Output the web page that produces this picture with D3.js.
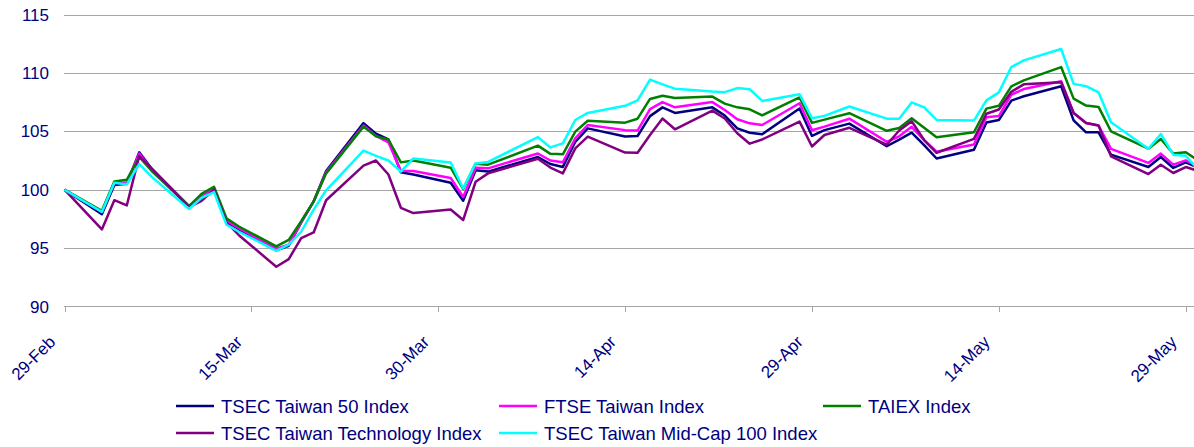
<!DOCTYPE html>
<html>
<head>
<meta charset="utf-8">
<script src="https://cdn.jsdelivr.net/npm/d3@7"></script>
<style>
  body { margin: 0; background: #fff; }
  svg { display: block; font-family: "Liberation Sans", Arial, sans-serif; }
  .grid line { stroke: #a6a6a6; stroke-width: 1; }
  .axis text { fill: #000080; }
</style>
</head>
<body>
<svg id="chart" width="1194" height="447"></svg>
<script>
// trading days, 2008
var dates = [
  "2008-02-29",
  "2008-03-03","2008-03-04","2008-03-05","2008-03-06","2008-03-07",
  "2008-03-10","2008-03-11","2008-03-12","2008-03-13","2008-03-14",
  "2008-03-17","2008-03-18","2008-03-19","2008-03-20","2008-03-21",
  "2008-03-24","2008-03-25","2008-03-26","2008-03-27","2008-03-28",
  "2008-03-31","2008-04-01","2008-04-02","2008-04-03",
  "2008-04-07","2008-04-08","2008-04-09","2008-04-10","2008-04-11",
  "2008-04-14","2008-04-15","2008-04-16","2008-04-17","2008-04-18",
  "2008-04-21","2008-04-22","2008-04-23","2008-04-24","2008-04-25",
  "2008-04-28","2008-04-29","2008-04-30","2008-05-02",
  "2008-05-05","2008-05-06","2008-05-07","2008-05-08","2008-05-09",
  "2008-05-12","2008-05-13","2008-05-14","2008-05-15","2008-05-16",
  "2008-05-19","2008-05-20","2008-05-21","2008-05-22","2008-05-23",
  "2008-05-26","2008-05-27","2008-05-28","2008-05-29","2008-05-30"
];

var tsec50 = [100,
  97.9,100.4,100.5,103.2,101.8,
  98.6,99.4,100.1,97.3,96.6,
  94.8,95.2,97.2,99.0,101.6,
  105.7,104.8,104.3,101.5,101.3,
  100.6,99.05,101.66,101.55,
  102.8,102.2,101.95,104.1,105.25,
  104.55,104.6,106.3,107.05,106.57,
  107.05,106.35,105.25,104.88,104.75,
  106.95,104.6,105.1,105.66,
  103.72,104.28,104.88,103.82,102.67,
  103.42,105.76,105.97,107.63,108.0,
  108.85,105.94,104.91,104.91,103.0,
  101.94,102.8,101.86,102.34,101.9];

var ftse = [100,
  98.1,100.6,100.6,103.1,101.7,
  98.55,99.4,100.1,97.35,96.7,
  94.95,95.3,97.2,99.0,101.5,
  105.5,104.6,104.06,101.6,101.6,
  101.0,99.38,101.88,101.83,
  103.1,102.5,102.35,104.4,105.54,
  105.1,105.06,106.9,107.5,107.05,
  107.5,106.82,106.03,105.68,105.54,
  107.4,105.09,105.4,106.08,
  104.1,104.57,105.38,104.25,103.25,
  103.87,106.2,106.3,108.13,108.62,
  109.28,106.57,105.71,105.49,103.49,
  102.29,103.09,102.14,102.51,102.0];

var taiex = [100,
  98.2,100.7,100.85,102.8,101.6,
  98.6,99.65,100.25,97.55,96.85,
  95.15,95.7,97.3,99.0,101.4,
  105.4,104.57,104.3,102.34,102.5,
  101.88,100.05,102.23,102.14,
  103.77,103.07,103.03,104.97,105.9,
  105.74,106.08,107.77,108.04,107.85,
  107.97,107.37,107.05,106.88,106.37,
  107.9,105.72,106.0,106.55,
  105.04,105.29,106.12,105.3,104.5,
  104.92,106.94,107.18,108.85,109.36,
  110.5,107.8,107.2,107.09,105.0,
  103.51,104.34,103.09,103.2,102.5];

var tech = [100,
  96.6,99.1,98.65,102.9,101.8,
  98.5,99.05,100.0,97.2,96.1,
  93.4,94.06,95.86,96.34,99.1,
  102.06,102.5,101.3,98.45,98.0,
  98.3,97.4,100.68,101.4,
  102.65,101.9,101.4,103.54,104.54,
  103.18,103.16,104.68,106.1,105.17,
  106.77,106.1,104.83,103.94,104.3,
  105.83,103.7,104.68,105.3,
  103.85,105.07,105.86,104.25,103.16,
  104.35,106.5,106.87,108.38,109.02,
  109.2,106.57,105.71,105.49,102.86,
  101.34,102.14,101.43,101.94,101.6];

var midcap = [100,
  98.1,100.6,100.45,102.2,101.1,
  98.35,99.3,99.8,97.0,96.4,
  94.77,95.3,96.4,98.3,99.95,
  103.34,102.9,102.5,101.55,102.68,
  102.33,100.1,102.25,102.38,
  104.5,103.62,103.97,105.97,106.57,
  107.18,107.65,109.43,109.02,108.65,
  108.4,108.35,108.7,108.6,107.6,
  108.18,106.12,106.32,107.12,
  106.08,106.08,107.47,107.05,105.97,
  105.92,107.65,108.33,110.5,111.07,
  112.05,109.06,108.86,108.34,105.77,
  103.51,104.77,103.0,102.91,101.7];

var seriesNames = ["TSEC Taiwan 50 Index", "FTSE Taiwan Index", "TAIEX Index",
                   "TSEC Taiwan Technology Index", "TSEC Taiwan Mid-Cap 100 Index"];
var seriesColors = ["#000080", "#ff00ff", "#008000", "#800080", "#00ffff"];
var seriesValues = [tsec50, ftse, taiex, tech, midcap];

var tickDates = ["2008-02-29","2008-03-15","2008-03-30","2008-04-14","2008-04-29","2008-05-14","2008-05-29"];
var tickLabels = ["29-Feb","15-Mar","30-Mar","14-Apr","29-Apr","14-May","29-May"];
var yTicks = [90, 95, 100, 105, 110, 115];

var parse = d3.utcParse("%Y-%m-%d");
var svg = d3.select("#chart");

var x = d3.scaleUtc()
    .domain([parse("2008-02-29"), parse("2008-05-30")])
    .range([64.5, 1198.2]);
var y = d3.scaleLinear().domain([90, 115]).range([306.5, 14.5]);

// gridlines
svg.append("g").attr("class", "grid")
  .selectAll("line")
  .data(yTicks.slice(1))
  .enter().append("line")
    .attr("x1", 64).attr("x2", 1200)
    .attr("y1", function(d) { return Math.round(y(d)) + 0.5; })
    .attr("y2", function(d) { return Math.round(y(d)) + 0.5; });

// y labels
svg.append("g").attr("class", "axis")
  .selectAll("text")
  .data(yTicks)
  .enter().append("text")
    .attr("x", 49)
    .attr("y", function(d) { return y(d); })
    .attr("dy", "0.36em")
    .attr("text-anchor", "end")
    .style("font-size", "17px")
    .text(function(d) { return d; });

// x axis
var tickX = tickDates.map(function(d) { return x(parse(d)); });
var xg = svg.append("g").attr("class", "axis");
xg.append("line")
    .attr("x1", 64).attr("x2", 1200)
    .attr("y1", 306.5).attr("y2", 306.5)
    .attr("stroke", "#a6a6a6");
xg.selectAll(".tick")
  .data(tickX)
  .enter().append("line")
    .attr("x1", function(d) { return Math.round(d) + 0.5; })
    .attr("x2", function(d) { return Math.round(d) + 0.5; })
    .attr("y1", 306.5).attr("y2", 312)
    .attr("stroke", "#a6a6a6");
xg.selectAll(".lbl")
  .data(tickLabels)
  .enter().append("text")
    .attr("text-anchor", "end")
    .style("font-size", "17px")
    .attr("transform", function(d, i) {
      return "translate(" + (tickX[i] - 8) + ",343) rotate(-45)";
    })
    .text(function(d) { return d; });

// lines
var line = d3.line()
    .x(function(d) { return x(d.date); })
    .y(function(d) { return y(d.value); });

seriesValues.forEach(function(vals, i) {
  var pts = dates.map(function(d, j) { return { date: parse(d), value: vals[j] }; });
  svg.append("path")
      .datum(pts)
      .attr("fill", "none")
      .attr("stroke", seriesColors[i])
      .attr("stroke-width", 2.5)
      .attr("stroke-linejoin", "round")
      .attr("d", line);
});

// legend
var legPos = [[176, 406], [499, 406], [823, 406], [176, 433], [499, 433]];
var leg = svg.append("g");
seriesNames.forEach(function(name, i) {
  var p = legPos[i];
  leg.append("line")
      .attr("x1", p[0]).attr("x2", p[0] + 38)
      .attr("y1", p[1]).attr("y2", p[1])
      .attr("stroke", seriesColors[i])
      .attr("stroke-width", 2.5);
  leg.append("text")
      .attr("x", p[0] + 45)
      .attr("y", p[1])
      .attr("dy", "0.36em")
      .attr("fill", "#000080")
      .style("font-size", "18.5px")
      .text(name);
});
</script>
</body>
</html>
